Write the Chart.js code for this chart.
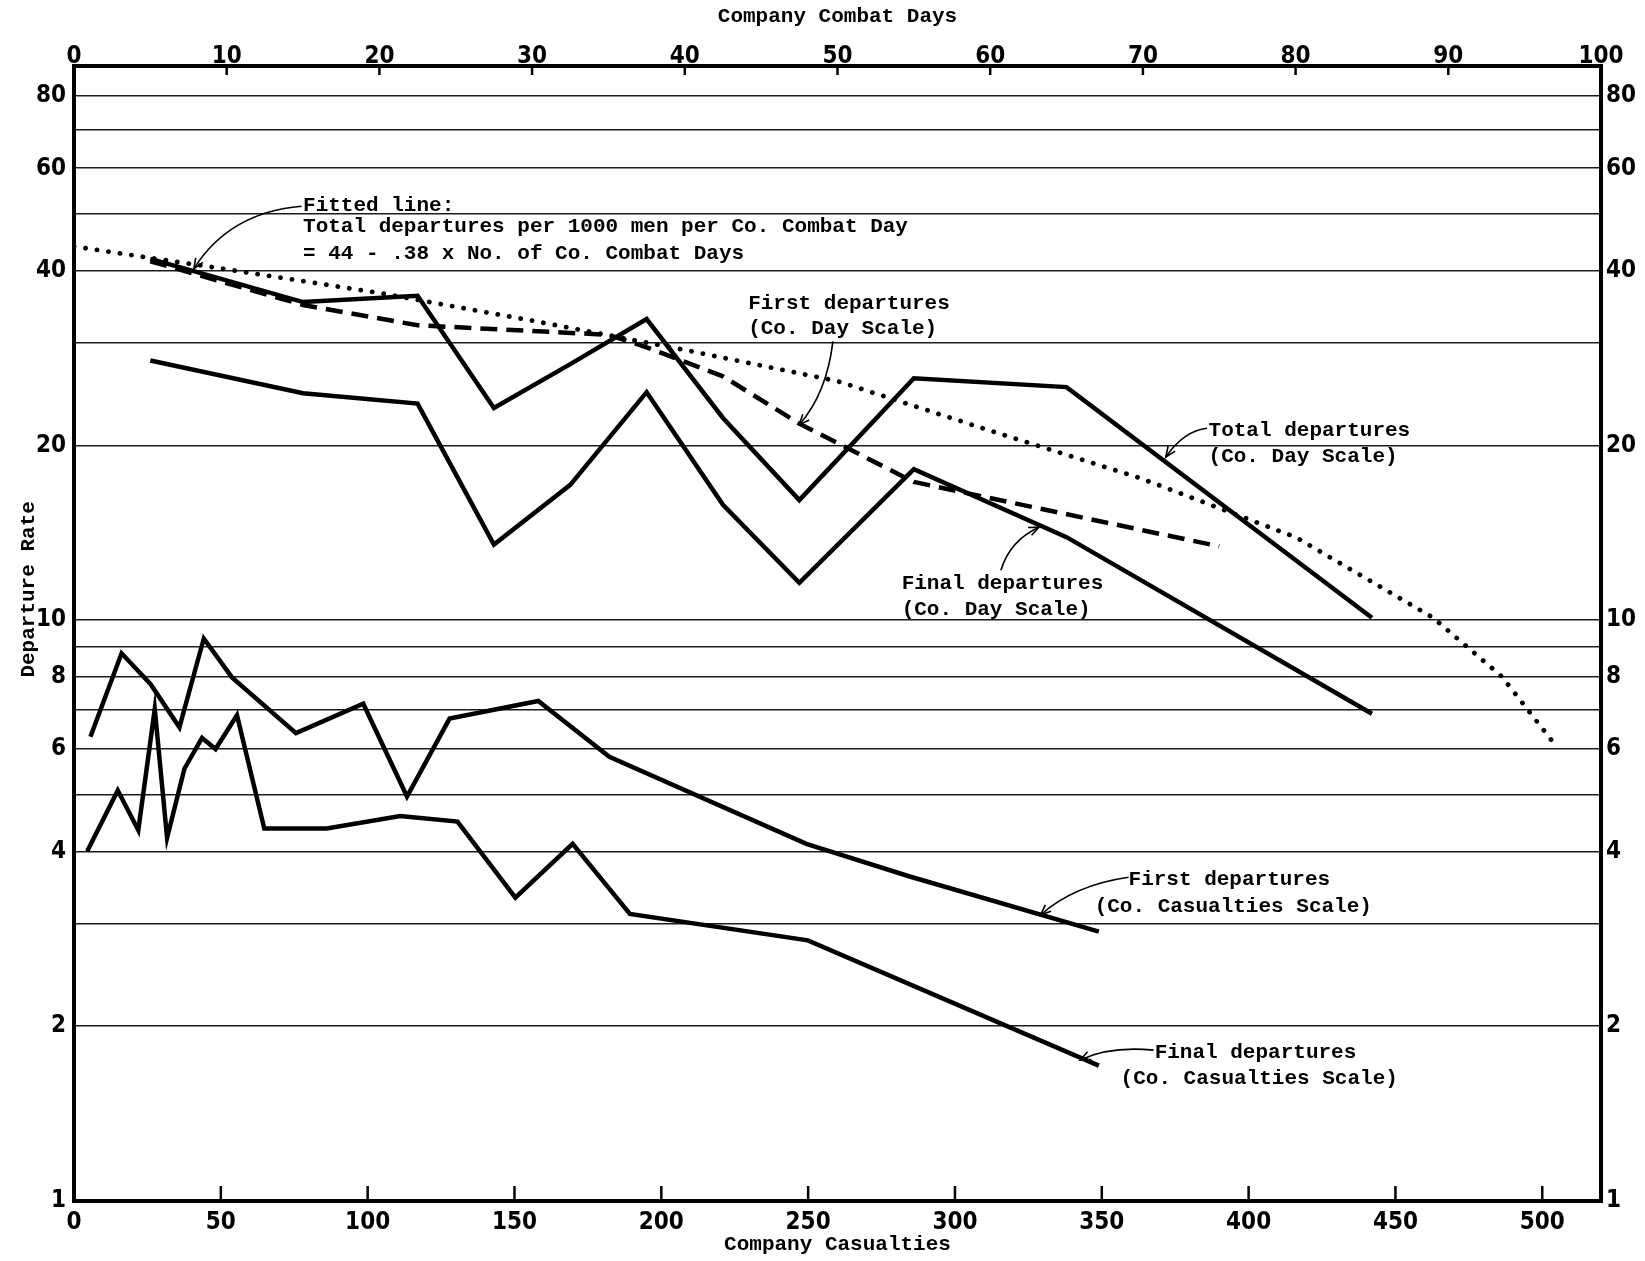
<!DOCTYPE html>
<html>
<head>
<meta charset="utf-8">
<title>Departure rate by company combat days and company casualties</title>
<script src="https://cdn.jsdelivr.net/npm/chart.js@4.4.1/dist/chart.umd.min.js"></script>
<style>
  html, body { margin: 0; padding: 0; background: #fff; }
  canvas { display: block; }
</style>
</head>
<body>
<canvas id="chart" width="1645" height="1261"></canvas>
<script>
// axis ticks
const dayTicks = [0, 10, 20, 30, 40, 50, 60, 70, 80, 90, 100];
const casualtyTicks = [0, 50, 100, 150, 200, 250, 300, 350, 400, 450, 500];
const rateGrid = [1, 2, 3, 4, 5, 6, 7, 8, 9, 10, 20, 30, 40, 50, 60, 70, 80];
const rateLabels = [1, 2, 4, 6, 8, 10, 20, 40, 60, 80];

// Co. Day scale (top axis)
const dayPoints = [5, 15, 22.5, 27.5, 32.5, 37.5, 42.5, 47.5, 55, 65, 85];
const totalByDay = [41.9, 35.3, 36.2, 23.2, 27.6, 33.0, 22.3, 16.1, 26.1, 25.2, 10.1];
const finalByDay = [28.0, 24.6, 23.6, 13.5, 17.1, 24.7, 15.8, 11.6, 18.2, 13.9, 6.9];
const firstDayPoints = [5, 15, 22.5, 35, 37.5, 42.5, 47.5, 55, 75];
const firstByDay = [41.5, 34.9, 32.2, 31.0, 29.5, 26.3, 21.8, 17.3, 13.4];
const fittedDays = [0, 10, 20, 30, 40, 50, 60, 70, 80, 89, 93.5, 97];
const fittedRate = [44, 40.2, 36.6, 32.8, 29.2, 25.8, 21.2, 17.5, 13.9, 10.1, 8.0, 6.1];

// Co. Casualties scale (bottom axis)
const firstCasualties = [5.6, 16.2, 26.1, 35.9, 44.2, 53.8, 75.6, 98.5, 113.4, 127.9, 158.1, 182.3, 249.4, 284.6, 349];
const firstByCasualties = [6.3, 8.77, 7.76, 6.54, 9.3, 7.97, 6.39, 7.18, 4.97, 6.77, 7.26, 5.82, 4.12, 3.62, 2.91];
const finalCasualties = [4.5, 14.9, 21.9, 27.5, 31.7, 37.6, 43.6, 48.2, 55.5, 64.8, 86.1, 111.1, 130.6, 150.3, 169.8, 189.3, 249.9, 349];
const finalByCasualties = [4.0, 5.09, 4.35, 7.03, 4.22, 5.55, 6.27, 6.0, 6.86, 4.38, 4.38, 4.6, 4.5, 3.33, 4.12, 3.12, 2.81, 1.71];

// text notes, placed in (combat day, rate) coordinates
const notes = [
  { day: 15.0, rates: [51.8, 47.5, 42.8],
    lines: ["Fitted line:", "Total departures per 1000 men per Co. Combat Day", "= 44 - .38 x No. of Co. Combat Days"],
    arrow: [[14.9, 51.6], [10.2, 50.4], [7.85, 40.3]] },
  { day: 44.15, rates: [35.1, 31.8], lines: ["First departures", "(Co. Day Scale)"],
    arrow: [[49.7, 30.2], [49.3, 24.6], [47.5, 21.7]] },
  { day: 74.3, rates: [21.2, 19.1], lines: ["Total departures", "(Co. Day Scale)"],
    arrow: [[74.2, 21.4], [72.7, 21.2], [71.5, 19.1]] },
  { day: 54.2, rates: [11.58, 10.44], lines: ["Final departures", "(Co. Day Scale)"],
    arrow: [[60.7, 12.19], [61.3, 13.73], [63.2, 14.46]] },
  { day: 66.84, rates: [3.58, 3.21], lines: ["First departures", "(Co. Casualties Scale)"], indent: [2.22, 0],
    arrow: [[69.06, 3.61], [65.5, 3.50], [63.3, 3.11]] },
  { day: 68.54, rates: [1.798, 1.622], lines: ["Final departures", "(Co. Casualties Scale)"], indent: [2.23, 0],
    arrow: [[70.7, 1.819], [67.8, 1.849], [65.9, 1.749]] }
];

const INK = "#000";
const MONO = '"Liberation Mono", "Courier New", monospace';
const NARROW = '"Liberation Sans Narrow", "DejaVu Sans Condensed", "Liberation Sans", sans-serif';
const tickFont = { family: NARROW, size: 24, weight: "bold", lineHeight: 1 };
const titleFont = { family: MONO, size: 21, weight: "bold" };

function pairs(xs, ys) {
  return xs.map((x, i) => ({ x: x, y: ys[i] }));
}

function series(label, xs, ys, xAxisID, extra) {
  return Object.assign({
    label: label,
    data: pairs(xs, ys),
    xAxisID: xAxisID,
    yAxisID: "y",
    borderColor: INK,
    borderWidth: 4.5,
    pointRadius: 0,
    tension: 0,
    fill: false,
    borderJoinStyle: "miter"
  }, extra || {});
}

function logAxis(position, width, padding) {
  return {
    type: "logarithmic",
    position: position,
    min: 1,
    max: 90,
    afterBuildTicks: (s) => { s.ticks = rateGrid.map((v) => ({ value: v })); },
    afterFit: (s) => { s.width = width; },
    border: { display: false },
    grid: {
      display: position === "left",
      drawTicks: false,
      lineWidth: 1.6,
      color: (c) => (c.tick && c.tick.value === 1 ? "rgba(0,0,0,0)" : "#1c1c1c")
    },
    ticks: {
      autoSkip: false,
      padding: padding,
      color: INK,
      font: tickFont,
      callback: (v) => (rateLabels.includes(v) ? String(v) : "")
    }
  };
}

const paper = {
  id: "paper",
  afterDraw(chart) {
    const { ctx, chartArea: a, scales } = chart;
    const xd = scales.xDays;
    const xc = scales.xCas;
    const y = scales.y;
    const px = (d) => xd.getPixelForValue(d);
    const py = (r) => y.getPixelForValue(r);

    ctx.save();
    ctx.strokeStyle = INK;
    ctx.fillStyle = INK;

    // tick marks point into the plot
    ctx.lineWidth = 2.5;
    ctx.beginPath();
    dayTicks.slice(1, -1).forEach((v) => {
      ctx.moveTo(px(v), a.top);
      ctx.lineTo(px(v), a.top + 9);
    });
    casualtyTicks.slice(1).forEach((v) => {
      const x = xc.getPixelForValue(v);
      ctx.moveTo(x, a.bottom);
      ctx.lineTo(x, a.bottom - 15);
    });
    ctx.stroke();

    // heavy frame
    ctx.lineWidth = 4;
    ctx.strokeRect(a.left, a.top, a.right - a.left, a.bottom - a.top);

    // vertical axis title
    ctx.font = "bold 21px " + MONO;
    ctx.textAlign = "center";
    ctx.textBaseline = "middle";
    ctx.save();
    ctx.translate(29, py(11.3));
    ctx.rotate(-Math.PI / 2);
    ctx.fillText("Departure Rate", 0, 0);
    ctx.restore();

    // notes with curved pointers
    ctx.textAlign = "left";
    notes.forEach((n) => {
      n.lines.forEach((t, i) => {
        const shift = n.indent ? n.indent[i] : 0;
        ctx.fillText(t, px(n.day + shift), py(n.rates[i]));
      });
      const [s, c, e] = n.arrow.map(([d, r]) => [px(d), py(r)]);
      ctx.lineWidth = 1.6;
      ctx.beginPath();
      ctx.moveTo(s[0], s[1]);
      ctx.quadraticCurveTo(c[0], c[1], e[0], e[1]);
      ctx.stroke();
      const ang = Math.atan2(e[1] - c[1], e[0] - c[0]);
      const len = 11;
      ctx.beginPath();
      ctx.moveTo(e[0] - len * Math.cos(ang - 0.4), e[1] - len * Math.sin(ang - 0.4));
      ctx.lineTo(e[0], e[1]);
      ctx.lineTo(e[0] - len * Math.cos(ang + 0.4), e[1] - len * Math.sin(ang + 0.4));
      ctx.stroke();
    });
    ctx.restore();
  }
};

new Chart(document.getElementById("chart"), {
  type: "line",
  data: {
    datasets: [
      series("Total departures (Co. Day Scale)", dayPoints, totalByDay, "xDays"),
      series("Final departures (Co. Day Scale)", dayPoints, finalByDay, "xDays"),
      series("First departures (Co. Day Scale)", firstDayPoints, firstByDay, "xDays", { borderDash: [17, 9], borderCapStyle: "butt" }),
      series("Fitted line", fittedDays, fittedRate, "xDays", { borderDash: [0.1, 11.5], borderCapStyle: "round", borderWidth: 4.8 }),
      series("First departures (Co. Casualties Scale)", firstCasualties, firstByCasualties, "xCas"),
      series("Final departures (Co. Casualties Scale)", finalCasualties, finalByCasualties, "xCas")
    ]
  },
  options: {
    responsive: false,
    animation: false,
    devicePixelRatio: 1,
    layout: { padding: 0 },
    plugins: {
      legend: { display: false },
      tooltip: { enabled: false }
    },
    scales: {
      xCas: {
        type: "linear",
        position: "bottom",
        min: 0,
        max: 520,
        afterBuildTicks: (s) => { s.ticks = casualtyTicks.map((v) => ({ value: v })); },
        afterFit: (s) => { s.height = 60; },
        grid: { display: false, drawTicks: false },
        border: { display: false },
        ticks: { autoSkip: false, maxRotation: 0, padding: 10, color: INK, font: tickFont },
        title: { display: true, text: "Company Casualties", color: INK, font: titleFont, padding: { top: 0, bottom: 4 } }
      },
      xDays: {
        type: "linear",
        position: "top",
        min: 0,
        max: 100,
        afterBuildTicks: (s) => { s.ticks = dayTicks.map((v) => ({ value: v })); },
        afterFit: (s) => { s.height = 66; },
        grid: { display: false, drawTicks: false },
        border: { display: false },
        ticks: { autoSkip: false, maxRotation: 0, padding: -3, color: INK, font: tickFont },
        title: { display: true, text: "Company Combat Days", color: INK, font: titleFont, padding: { top: 4, bottom: 0 } }
      },
      y: logAxis("left", 74, 8),
      y2: logAxis("right", 44, 5)
    }
  },
  plugins: [paper]
});
</script>
</body>
</html>
